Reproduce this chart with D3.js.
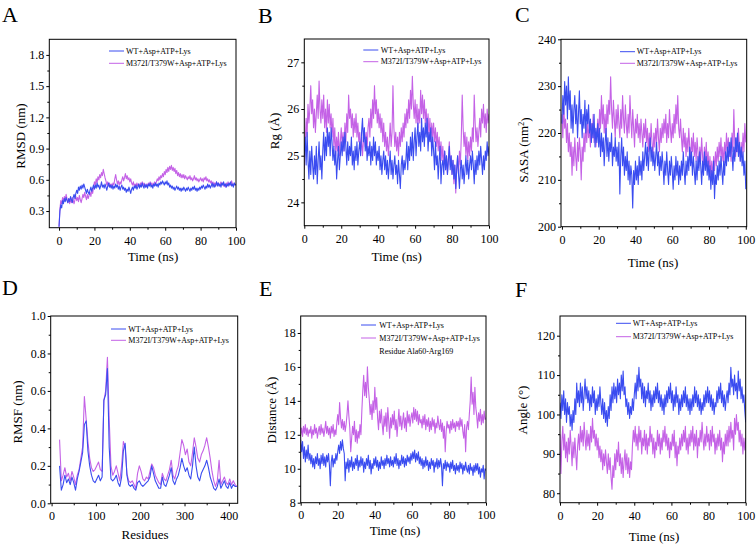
<!DOCTYPE html>
<html><head><meta charset="utf-8">
<script src="https://cdn.jsdelivr.net/npm/d3@7"></script>
<style>body{margin:0;background:#fff}svg{display:block}</style>
</head><body><svg id="c" width="756" height="547"></svg>
<script>
const seriesNames = ["WT+Asp+ATP+Lys", "M372I/T379W+Asp+ATP+Lys"];
const panelLetters = ["A", "B", "C", "D", "E", "F"];

// A: RMSD (nm), t = 0..100 ns every 0.5 ns
const rmsdWT = [
0.15,0.30,0.36,0.33,0.40,0.37,0.42,0.39,0.43,0.40,
0.38,0.42,0.39,0.44,0.41,0.38,0.43,0.46,0.42,0.47,
0.50,0.47,0.53,0.50,0.54,0.51,0.55,0.52,0.56,0.53,
0.50,0.47,0.51,0.48,0.46,0.50,0.53,0.49,0.52,0.55,
0.51,0.55,0.52,0.57,0.53,0.55,0.51,0.54,0.58,0.53,
0.55,0.52,0.56,0.53,0.50,0.54,0.57,0.53,0.55,0.52,
0.55,0.51,0.54,0.52,0.56,0.53,0.55,0.51,0.54,0.50,
0.53,0.55,0.51,0.53,0.50,0.52,0.48,0.51,0.49,0.53,
0.50,0.47,0.51,0.53,0.50,0.54,0.52,0.55,0.51,0.53,
0.56,0.52,0.55,0.53,0.57,0.54,0.52,0.56,0.53,0.55,
0.52,0.56,0.54,0.57,0.53,0.55,0.52,0.56,0.54,0.57,
0.54,0.56,0.53,0.57,0.55,0.58,0.56,0.59,0.57,0.55,
0.58,0.56,0.59,0.55,0.57,0.53,0.55,0.52,0.54,0.51,
0.53,0.50,0.52,0.54,0.51,0.53,0.50,0.52,0.49,0.52,
0.50,0.53,0.51,0.49,0.52,0.50,0.53,0.51,0.49,0.52,
0.50,0.53,0.51,0.54,0.50,0.52,0.49,0.52,0.50,0.53,
0.51,0.54,0.52,0.55,0.53,0.51,0.54,0.52,0.56,0.53,
0.55,0.52,0.54,0.57,0.53,0.56,0.53,0.55,0.58,0.54,
0.57,0.54,0.56,0.53,0.57,0.55,0.58,0.54,0.56,0.53,
0.56,0.54,0.57,0.55,0.58,0.54,0.56,0.53,0.57,0.55,
0.56];
const rmsdMut = [
0.15,0.32,0.40,0.37,0.43,0.39,0.44,0.41,0.46,0.42,
0.38,0.42,0.37,0.41,0.38,0.43,0.40,0.37,0.41,0.44,
0.40,0.43,0.39,0.45,0.41,0.38,0.42,0.46,0.43,0.48,
0.44,0.41,0.46,0.42,0.45,0.48,0.44,0.50,0.47,0.53,
0.58,0.55,0.61,0.57,0.63,0.60,0.65,0.62,0.67,0.64,
0.70,0.66,0.62,0.59,0.55,0.58,0.54,0.57,0.53,0.56,
0.53,0.57,0.55,0.61,0.65,0.60,0.56,0.59,0.55,0.58,
0.56,0.60,0.63,0.59,0.62,0.66,0.61,0.64,0.60,0.62,
0.58,0.61,0.57,0.55,0.58,0.54,0.56,0.53,0.57,0.54,
0.56,0.53,0.57,0.55,0.58,0.54,0.57,0.55,0.53,0.56,
0.54,0.57,0.55,0.58,0.55,0.57,0.54,0.56,0.58,0.55,
0.58,0.61,0.59,0.63,0.60,0.64,0.62,0.66,0.63,0.68,
0.65,0.70,0.67,0.72,0.68,0.73,0.70,0.74,0.69,0.72,
0.68,0.71,0.66,0.69,0.64,0.67,0.63,0.66,0.62,0.65,
0.62,0.65,0.61,0.64,0.62,0.60,0.63,0.61,0.64,0.60,
0.62,0.59,0.61,0.64,0.60,0.62,0.59,0.61,0.58,0.60,
0.62,0.59,0.61,0.58,0.62,0.60,0.63,0.59,0.61,0.58,
0.60,0.57,0.59,0.56,0.58,0.55,0.57,0.54,0.58,0.55,
0.57,0.54,0.56,0.58,0.55,0.57,0.54,0.56,0.53,0.57,
0.55,0.58,0.54,0.57,0.55,0.59,0.56,0.54,0.57,0.55,
0.56];

// B: Rg (Å)
const rgWT = [
25.0,25.4,24.8,25.5,24.9,24.5,25.1,24.6,25.2,24.8,
24.5,25.0,24.6,25.2,24.4,24.9,25.3,24.7,25.0,24.5,
25.1,25.5,24.9,25.4,25.0,25.6,25.2,25.5,25.0,25.6,
25.3,24.9,25.2,24.8,25.1,24.5,24.9,25.2,24.7,25.0,
25.3,25.0,25.4,25.1,25.5,25.2,24.8,25.3,24.9,25.2,
25.0,25.4,24.8,25.1,24.7,25.2,24.9,25.3,24.8,25.1,
25.3,25.0,25.5,25.8,25.3,25.6,25.1,25.4,24.9,25.2,
25.0,25.3,24.8,25.2,24.9,25.4,25.0,25.3,24.8,25.1,
24.9,25.2,24.7,25.0,24.6,24.9,25.1,24.7,25.0,24.6,
24.9,24.5,24.8,25.1,24.6,24.9,24.5,24.8,25.0,24.6,
24.8,24.4,24.9,24.6,24.3,24.8,25.0,24.6,24.9,24.7,
24.9,25.3,24.7,25.2,24.9,25.4,25.0,25.5,24.9,25.3,
25.6,25.0,25.4,25.7,25.2,25.5,25.1,25.8,25.3,25.6,
25.2,25.7,25.4,25.8,25.1,25.5,25.3,25.6,25.0,25.4,
25.1,24.7,25.3,24.8,25.0,24.5,24.9,25.2,24.4,24.8,
24.9,24.6,25.1,24.7,25.0,24.6,24.9,25.2,24.7,25.0,
24.6,24.9,24.5,24.8,24.3,24.7,25.0,24.6,24.3,24.7,
24.9,24.5,24.8,24.4,24.7,25.0,24.6,24.9,24.5,24.8,
25.0,24.7,25.1,24.8,24.4,24.9,24.6,25.0,24.7,25.1,
24.8,25.2,24.9,24.6,25.0,24.7,25.1,24.9,25.3,25.0,
25.2];
const rgMut = [
24.7,25.3,25.8,25.4,26.1,25.7,26.0,26.5,25.9,26.2,
25.6,26.0,25.5,25.9,26.3,25.8,26.6,26.0,25.7,26.2,
25.8,26.3,25.6,26.0,25.5,26.2,25.7,26.1,25.6,25.9,
25.4,25.8,25.2,25.6,25.0,25.4,25.1,25.5,25.0,25.3,
25.6,25.2,25.5,25.1,25.7,25.3,25.9,25.5,26.3,25.8,
26.0,25.6,25.9,25.4,25.8,25.5,25.9,25.4,25.7,25.3,
25.5,25.1,25.4,25.0,25.3,25.6,25.2,25.5,25.1,25.6,
25.8,25.4,26.0,25.6,26.2,25.8,26.5,25.9,26.2,25.7,
26.0,25.6,25.9,25.5,25.8,25.3,25.7,25.2,25.5,25.1,
25.4,25.0,25.3,25.7,25.2,25.5,26.5,25.6,25.2,25.5,
25.1,25.4,25.0,25.5,25.2,25.6,25.3,25.7,25.4,25.9,
25.6,26.0,25.7,26.2,25.8,26.4,26.0,26.7,26.1,25.8,
26.2,25.7,26.1,25.6,26.0,25.7,26.4,25.9,26.3,25.8,
26.2,25.7,26.0,25.5,25.9,25.4,25.8,25.3,25.7,25.4,
25.7,25.3,25.6,25.2,25.5,25.1,25.4,25.0,25.3,24.9,
25.2,24.8,25.1,24.7,25.0,24.6,24.9,25.3,24.8,25.0,
24.6,24.9,24.4,24.8,24.2,24.7,25.0,24.6,25.1,24.8,
25.4,26.3,25.6,25.2,25.5,25.0,25.4,24.9,25.3,25.0,
25.4,25.1,25.6,25.3,26.3,25.7,25.3,25.6,25.2,25.5,
25.8,25.4,26.0,25.7,26.1,25.6,25.9,25.5,26.0,25.7,
25.9];

// C: SASA (nm²)
const sasaWT = [
222,228,224,231,226,230,223,232,225,229,
221,226,220,225,228,222,226,219,224,229,
222,225,219,224,221,227,220,225,222,226,
220,223,218,222,219,224,217,221,218,222,
217,221,215,220,216,219,213,218,221,215,
219,214,218,216,220,213,217,215,219,214,
217,213,218,207,215,219,213,217,211,215,
212,216,210,214,209,213,211,204,212,209,
214,210,213,209,215,211,214,210,216,212,
215,218,213,217,212,216,219,214,217,213,
216,212,215,218,213,216,211,215,212,216,
213,209,214,211,216,212,209,214,211,215,
212,208,213,210,215,211,214,209,213,210,
214,211,216,212,209,214,211,215,212,217,
213,216,211,215,212,209,214,210,215,212,
216,213,209,214,211,216,212,215,211,214,
210,213,208,212,209,214,206,211,209,213,
210,214,211,215,212,209,214,211,216,213,
217,214,218,215,219,216,212,217,214,219,
216,220,215,218,214,217,213,216,211,214,
208];
const sasaMut = [
224,219,226,221,223,218,222,216,220,215,
218,211,217,213,219,215,212,218,214,219,
216,210,217,214,220,216,222,218,223,219,
221,217,222,219,224,218,221,217,220,223,
219,225,221,228,222,226,220,224,219,226,
222,227,224,232,225,221,227,223,219,225,
221,226,222,219,225,221,228,223,220,226,
222,219,224,220,228,223,219,225,221,217,
223,220,224,219,222,218,223,220,217,222,
219,223,218,221,216,220,217,222,218,215,
220,217,221,218,223,219,216,221,218,222,
219,223,220,224,218,222,219,225,221,218,
222,219,224,220,226,222,228,221,219,223,
219,216,221,217,220,215,219,216,221,217,
214,219,216,220,215,218,214,219,216,213,
217,214,219,215,212,217,214,218,213,216,
212,215,211,214,210,215,212,216,213,217,
214,218,215,219,214,217,213,218,215,220,
216,219,215,218,214,220,216,225,218,215,
219,216,221,217,214,218,215,220,216,222,
218];

// D: RMSF (nm) by residue, residues 18..418 every 4
const rmsfWT = [
0.20,0.07,0.10,0.15,0.11,0.13,0.10,0.14,0.11,0.07,
0.13,0.17,0.22,0.27,0.42,0.44,0.28,0.20,0.15,0.12,
0.11,0.13,0.15,0.12,0.14,0.55,0.58,0.72,0.30,0.13,
0.12,0.13,0.15,0.11,0.09,0.14,0.28,0.32,0.15,0.10,
0.09,0.10,0.08,0.07,0.11,0.12,0.10,0.09,0.10,0.11,
0.12,0.14,0.20,0.16,0.12,0.10,0.08,0.08,0.14,0.10,
0.09,0.12,0.15,0.19,0.12,0.10,0.13,0.15,0.19,0.24,
0.20,0.17,0.19,0.15,0.13,0.20,0.30,0.20,0.14,0.12,
0.16,0.18,0.20,0.23,0.19,0.14,0.11,0.08,0.07,0.09,
0.13,0.08,0.10,0.12,0.09,0.08,0.11,0.08,0.10,0.09,
0.09];
const rmsfMut = [
0.34,0.12,0.15,0.19,0.14,0.16,0.12,0.17,0.14,0.10,
0.15,0.18,0.24,0.30,0.57,0.45,0.33,0.24,0.19,0.17,
0.18,0.20,0.22,0.18,0.17,0.55,0.60,0.78,0.45,0.20,
0.15,0.17,0.20,0.16,0.12,0.20,0.33,0.30,0.16,0.12,
0.11,0.12,0.10,0.08,0.16,0.20,0.17,0.13,0.12,0.14,
0.13,0.17,0.21,0.19,0.15,0.13,0.11,0.10,0.16,0.13,
0.12,0.15,0.18,0.23,0.15,0.13,0.17,0.20,0.27,0.34,
0.31,0.26,0.29,0.22,0.20,0.27,0.35,0.30,0.24,0.22,
0.26,0.28,0.31,0.35,0.30,0.24,0.17,0.12,0.09,0.12,
0.23,0.10,0.12,0.14,0.11,0.10,0.13,0.10,0.12,0.10,
0.09];

// E: Distance (Å), Residue Ala60-Arg169
const distWT = [
11.7,11.0,11.6,10.6,11.3,10.4,11.1,10.6,11.4,10.5,
10.9,10.3,10.8,10.1,10.6,10.0,10.7,10.3,10.9,10.2,
10.6,10.0,10.8,10.3,10.9,10.2,10.7,10.1,10.8,10.4,
10.9,10.2,9.0,10.4,10.8,10.1,10.6,10.3,10.9,10.5,
11.0,11.4,10.9,11.6,11.1,11.7,11.2,10.9,9.3,10.4,
10.0,10.6,9.8,10.5,10.1,10.7,9.9,10.4,10.0,10.6,
10.2,10.8,9.9,10.5,10.1,10.7,10.2,10.6,9.8,10.4,
10.0,10.6,10.2,10.8,10.0,10.5,9.7,10.3,10.0,10.6,
10.2,10.7,10.1,10.5,9.9,10.4,10.0,10.7,10.2,10.5,
10.0,10.6,10.2,10.8,10.3,10.6,10.1,10.7,10.2,10.5,
10.1,10.7,10.3,10.9,10.2,10.6,10.0,10.5,10.2,10.8,
10.3,10.7,10.1,10.6,10.2,10.8,10.4,10.7,10.3,10.9,
10.5,11.0,10.6,11.1,10.4,10.9,10.5,11.0,10.3,10.7,
10.2,10.6,10.0,10.5,10.1,10.7,10.2,10.5,9.9,10.4,
10.0,10.6,10.2,10.5,9.8,10.4,10.1,10.6,10.0,10.5,
10.1,10.6,10.2,9.0,10.3,10.0,10.5,9.9,10.4,10.1,
10.3,9.8,10.4,10.0,10.5,9.9,10.2,9.7,10.3,9.9,
10.2,9.8,10.4,10.0,10.3,9.7,10.2,9.9,10.4,10.0,
9.8,10.2,9.7,10.3,9.9,10.1,9.6,10.2,9.8,10.3,
9.9,10.3,9.7,10.1,9.5,10.0,9.8,10.2,9.4,10.0,
9.9];
const distMut = [
12.0,12.4,11.9,12.5,12.1,12.6,12.0,12.4,11.9,12.3,
12.1,12.5,11.8,12.3,12.0,12.6,12.1,12.4,11.8,12.2,
12.5,12.0,12.6,12.1,12.4,11.9,12.3,12.8,12.1,12.5,
12.0,12.4,11.8,12.5,12.1,12.6,11.9,12.3,12.0,12.7,
13.2,12.6,13.9,13.0,12.4,12.9,12.3,12.8,12.2,12.6,
13.2,14.0,13.1,12.4,11.0,11.8,12.5,12.0,12.8,11.6,
12.3,11.5,12.2,11.8,12.6,12.0,13.4,14.6,15.5,14.3,
15.1,14.2,16.0,14.8,14.1,13.2,13.8,12.9,14.0,13.3,
14.8,13.5,14.2,13.0,12.3,13.4,12.7,13.5,12.6,12.0,
13.1,12.5,13.3,12.2,13.6,12.8,11.8,13.0,12.4,13.2,
12.6,13.4,12.3,12.9,11.9,12.7,13.5,12.5,13.1,12.3,
12.8,13.3,12.4,13.0,12.2,13.4,12.7,13.2,12.5,13.0,
13.3,12.7,13.6,12.9,13.5,12.8,13.4,12.6,13.2,12.7,
12.9,12.4,13.1,12.6,13.2,12.3,12.9,12.5,13.0,12.2,
12.8,12.3,13.0,12.5,12.9,12.1,12.7,12.4,13.1,12.6,
12.3,12.9,12.2,12.7,11.8,12.5,11.0,12.2,12.8,12.4,
12.6,12.1,12.8,12.3,12.9,12.4,12.7,12.2,12.8,12.5,
12.8,12.3,13.0,12.5,12.9,12.2,11.8,12.6,11.0,12.4,
12.8,12.3,13.2,14.0,15.4,13.8,14.5,13.2,14.8,13.6,
13.1,12.4,13.3,12.8,13.5,12.6,13.2,12.7,13.4,12.9,
13.0];

// F: Angle (°)
const angleWT = [
103,99,105,101,106,100,104,98,103,100,
102,97,100,96,101,98,104,100,108,103,
106,102,108,103,107,101,105,109,104,107,
103,106,101,105,102,107,103,106,100,104,
101,105,102,107,103,100,104,99,103,98,
101,97,102,99,105,101,107,103,108,104,
107,103,109,105,108,104,110,106,111,105,
107,102,104,100,103,99,102,100,104,101,
105,108,104,110,106,112,107,109,104,108,
103,107,102,106,104,108,103,106,101,105,
102,106,103,107,104,108,103,106,102,105,
101,104,100,105,102,106,103,107,104,108,
103,106,101,105,102,107,103,105,100,104,
101,105,102,106,103,107,102,105,101,104,
100,104,101,105,102,107,103,106,102,105,
101,104,100,103,101,105,102,106,103,107,
103,106,102,105,101,104,100,103,102,106,
103,107,104,108,103,106,102,105,101,104,
106,103,108,105,112,107,109,105,110,106,
108,104,111,106,109,104,107,103,105,101,
98];
const angleMut = [
95,85,93,97,91,95,89,93,88,94,
90,96,92,87,93,89,94,90,86,92,
95,91,97,93,96,92,98,94,91,96,
92,95,91,97,93,99,94,96,92,95,
91,94,89,92,88,91,86,90,87,91,
88,85,90,86,89,84,81,87,84,90,
86,91,88,93,87,90,85,89,84,88,
91,86,90,85,89,84,88,86,92,96,
93,97,92,95,91,97,93,96,90,94,
92,96,91,95,90,94,92,97,93,95,
90,94,89,93,91,96,92,95,90,94,
91,96,93,97,92,95,91,94,89,93,
91,95,92,96,89,93,87,92,90,94,
91,95,92,96,93,97,91,94,90,95,
92,96,93,97,91,95,92,96,89,94,
92,96,93,98,94,91,95,92,97,93,
95,91,96,92,97,93,95,90,94,91,
95,92,96,91,94,88,93,90,95,92,
96,92,97,93,98,94,96,91,99,95,
100,96,98,93,96,92,95,90,94,91,
94];

const blue = "#3a4cf0", mag = "#c462e6";
const FONT = "'Liberation Serif','Times New Roman',serif";
const timeOf = arr => arr.map((_, i) => i * 0.5);
const residues = rmsfWT.map((_, i) => 18 + i * 4);

const svg = d3.select("#c");

const panels = [
 {letter:"A", lx:2, ly:22, l:49.3, r:236, t:39.3, b:227.7, xd:[-5.5,100], yd:[0.14,1.95],
  xt:[0,20,40,60,80,100], xm:[10,30,50,70,90], yt:[0.3,0.6,0.9,1.2,1.5,1.8], ym:[0.45,0.75,1.05,1.35,1.65], yf:d3.format(".1f"),
  ytitle:"RMSD (nm)", ytx:20.7, yty:136, xtitle:"Time (ns)", xtx:153, xty:261,
  leg:{x1:109, x2:124, y:[51,63.3], tx:126}, series:[[timeOf(rmsdMut), rmsdMut, mag],[timeOf(rmsdWT), rmsdWT, blue]]},
 {letter:"B", lx:258, ly:23, l:304.3, r:489, t:39, b:225.7, xd:[0,100], yd:[23.5,27.5],
  xt:[0,20,40,60,80,100], xm:[10,30,50,70,90], yt:[24,25,26,27], ym:[24.5,25.5,26.5], yf:d3.format("d"),
  ytitle:"Rg (Å)", ytx:274, yty:131, xtitle:"Time (ns)", xtx:396.7, xty:261,
  leg:{x1:363.3, x2:378.3, y:[50,61.7], tx:380.7}, series:[[timeOf(rgMut), rgMut, mag],[timeOf(rgWT), rgWT, blue]]},
 {letter:"C", lx:515, ly:22, l:561, r:746.7, t:39.3, b:226.7, xd:[-0.5,100.5], yd:[200,240],
  xt:[0,20,40,60,80,100], xm:[10,30,50,70,90], yt:[200,210,220,230,240], ym:[205,215,225,235], yf:d3.format("d"),
  ytitle:"SASA (nm", sup:"2", ytx:523, yty:150, xtitle:"Time (ns)", xtx:653, xty:267,
  leg:{x1:620, x2:635, y:[51.7,63.3], tx:636.7}, series:[[timeOf(sasaMut), sasaMut, mag],[timeOf(sasaWT), sasaWT, blue]]},
 {letter:"D", lx:2, ly:295, l:50.7, r:237.7, t:316, b:503.3, xd:[-2,420], yd:[0,1],
  xt:[0,100,200,300,400], xm:[50,150,250,350], yt:[0,0.2,0.4,0.6,0.8,1.0], ym:[0.1,0.3,0.5,0.7,0.9], yf:d3.format(".1f"),
  ytitle:"RMSF (nm)", ytx:17.5, yty:412, xtitle:"Residues", xtx:145, xty:539,
  leg:{x1:111, x2:126, y:[329,340.3], tx:128.3}, series:[[residues, rmsfMut, mag],[residues, rmsfWT, blue]]},
 {letter:"E", lx:259, ly:296, l:300.7, r:486, t:316, b:502.7, xd:[0,100], yd:[8,19],
  xt:[0,20,40,60,80,100], xm:[10,30,50,70,90], yt:[8,10,12,14,16,18], ym:[9,11,13,15,17], yf:d3.format("d"),
  ytitle:"Distance (Å)", ytx:271, yty:410, xtitle:"Time (ns)", xtx:395, xty:534.5, xpad:4.5,
  leg:{x1:361, x2:376, y:[325,338], tx:379.3, extra:"Residue Ala60-Arg169", ey:351}, series:[[timeOf(distMut), distMut, mag],[timeOf(distWT), distWT, blue]]},
 {letter:"F", lx:515, ly:297, l:560, r:745.7, t:316, b:502.7, xd:[0,100], yd:[77.6,125],
  xt:[0,20,40,60,80,100], xm:[10,30,50,70,90], yt:[80,90,100,110,120], ym:[85,95,105,115], yf:d3.format("d"),
  ytitle:"Angle (°)", ytx:522, yty:410, xtitle:"Time (ns)", xtx:654, xty:540.5,
  leg:{x1:616, x2:631, y:[323.3,336.7], tx:632.7}, series:[[timeOf(angleMut), angleMut, mag],[timeOf(angleWT), angleWT, blue]]}
];

panels.forEach(p => {
  const g = svg.append("g");
  const x = d3.scaleLinear().domain(p.xd).range([p.l, p.r]);
  const y = d3.scaleLinear().domain(p.yd).range([p.b, p.t]);
  const cid = "clip" + p.letter;
  svg.append("clipPath").attr("id", cid).append("rect")
    .attr("x", p.l).attr("y", p.t).attr("width", p.r - p.l).attr("height", p.b - p.t);
  const line = d3.line().x(d => x(d[0])).y(d => y(d[1]));
  p.series.forEach(([xs, ys, col]) => {
    g.append("path").datum(xs.map((v, i) => [v, ys[i]]))
      .attr("clip-path", `url(#${cid})`).attr("fill", "none")
      .attr("stroke", col).attr("stroke-width", 1.1).attr("stroke-linejoin", "round")
      .attr("d", line);
  });
  const style = sel => { sel.select(".domain").remove(); sel.selectAll("line").attr("stroke", "#000").attr("stroke-width", 1);
    sel.selectAll("text").attr("font-family", FONT).attr("font-size", 12).attr("fill", "#000"); };
  g.append("g").attr("transform", `translate(0,${p.b})`)
    .call(d3.axisBottom(x).tickValues(p.xt).tickSize(3).tickPadding(p.xpad || 5.5).tickFormat(d3.format("d"))).call(style);
  g.append("g").attr("transform", `translate(0,${p.b})`)
    .call(d3.axisBottom(x).tickValues(p.xm).tickSize(2).tickFormat("")).call(style);
  g.append("g").attr("transform", `translate(${p.l},0)`)
    .call(d3.axisLeft(y).tickValues(p.yt).tickSize(3).tickPadding(2).tickFormat(p.yf)).call(style);
  g.append("g").attr("transform", `translate(${p.l},0)`)
    .call(d3.axisLeft(y).tickValues(p.ym).tickSize(2).tickFormat("")).call(style);
  g.append("rect").attr("x", p.l).attr("y", p.t).attr("width", p.r - p.l).attr("height", p.b - p.t)
    .attr("fill", "none").attr("stroke", "#000").attr("stroke-width", 1);
  g.append("text").attr("x", p.xtx).attr("y", p.xty).attr("text-anchor", "middle")
    .attr("font-family", FONT).attr("font-size", 13).text(p.xtitle);
  const yt = g.append("text").attr("transform", `translate(${p.ytx},${p.yty}) rotate(-90)`)
    .attr("text-anchor", "middle").attr("dy", "0.35em").attr("font-family", FONT).attr("font-size", 13).text(p.ytitle);
  if (p.sup) { yt.append("tspan").attr("dy", "-0.4em").attr("font-size", 8).text(p.sup);
    yt.append("tspan").attr("dy", "0.4em").text(")"); }
  g.append("text").attr("x", p.lx).attr("y", p.ly).attr("font-family", FONT).attr("font-size", 22).text(p.letter);
  const cols = [blue, mag];
  seriesNames.forEach((nm, i) => {
    g.append("line").attr("x1", p.leg.x1).attr("x2", p.leg.x2).attr("y1", p.leg.y[i]).attr("y2", p.leg.y[i])
      .attr("stroke", cols[i]).attr("stroke-width", 1);
    g.append("text").attr("x", p.leg.tx).attr("y", p.leg.y[i]).attr("dy", "0.33em")
      .attr("font-family", FONT).attr("font-size", 8).text(nm);
  });
  if (p.leg.extra) g.append("text").attr("x", p.leg.tx).attr("y", p.leg.ey).attr("dy", "0.33em")
      .attr("font-family", FONT).attr("font-size", 8).text(p.leg.extra);
});
</script></body></html>
